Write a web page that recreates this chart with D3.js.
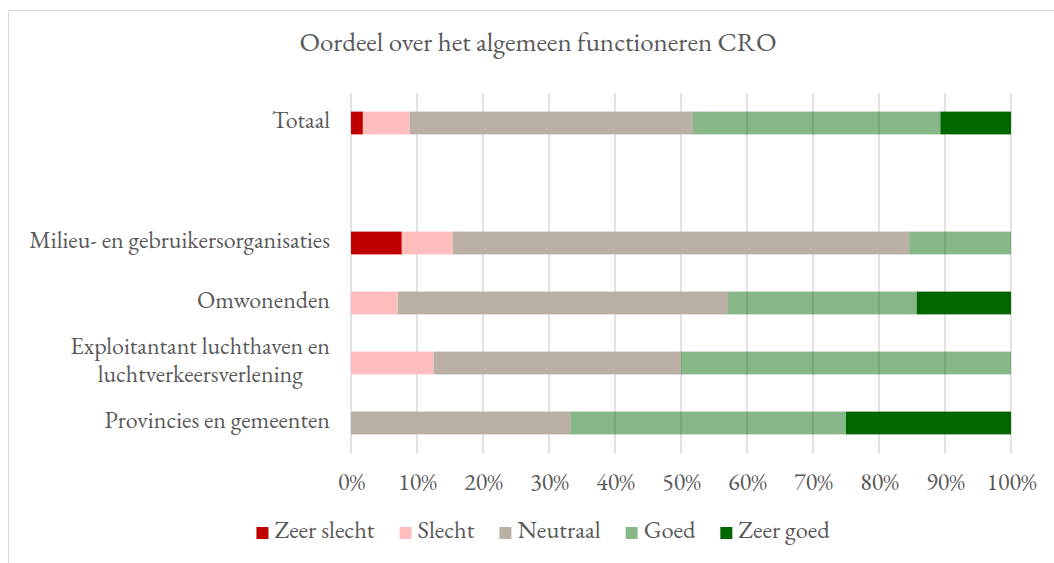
<!DOCTYPE html>
<html>
<head>
    <meta charset="utf-8">
    <title>Oordeel over het algemeen functioneren CRO</title>
    <style>
        body {
            margin: 0;
            background: #fff;
            font-family: "EB Garamond", Garamond, "Liberation Serif", serif;
        }

        text {
            fill: #595959;
        }

        .grid line {
            stroke: #d9d9d9;
            stroke-width: 1.5px;
        }
    </style>
    <script src="https://d3js.org/d3.v7.min.js"></script>
</head>
<body>
<div id="chart"></div>
<script>
    const width = 1054,
            height = 563;

    // categories, top to bottom (empty string = spacer row)
    const categories = [
        'Totaal',
        '',
        'Milieu- en gebruikersorganisaties',
        'Omwonenden',
        'Exploitantant luchthaven en\nluchtverkeersverlening',
        'Provincies en gemeenten'
    ];

    const seriesNames = ['Zeer slecht', 'Slecht', 'Neutraal', 'Goed', 'Zeer goed'];

    // shares in %, per category (same order as categories)
    const zeerSlecht = [1.8, 0, 7.7, 0, 0, 0];
    const slecht     = [7.1, 0, 7.7, 7.1, 12.5, 0];
    const neutraal   = [42.9, 0, 69.2, 50.0, 37.5, 33.3];
    const goed       = [37.5, 0, 15.4, 28.6, 50.0, 41.7];
    const zeerGoed   = [10.7, 0, 0, 14.3, 0, 25.0];

    const tickValues = [0, 0.1, 0.2, 0.3, 0.4, 0.5, 0.6, 0.7, 0.8, 0.9, 1];

    const colors = ['#c00000', '#ffbdbd', '#bab0a5', '#006600', '#006600'];
    const opacities = [1, 1, 1, 0.47, 1];

    // build rows for the stack
    const rows = categories.map((c, i) => ({
        cat: c,
        'Zeer slecht': zeerSlecht[i],
        'Slecht': slecht[i],
        'Neutraal': neutraal[i],
        'Goed': goed[i],
        'Zeer goed': zeerGoed[i]
    }));

    const stacked = d3.stack()
            .keys(seriesNames)
            .offset(d3.stackOffsetExpand)(rows);

    const svg = d3.select('#chart').append('svg')
            .attr('width', width)
            .attr('height', height);

    // chart frame (Excel style, runs off to the right/bottom)
    svg.append('rect')
            .attr('x', 8.5).attr('y', 10.5)
            .attr('width', 1070).attr('height', 600)
            .attr('fill', '#fff')
            .attr('stroke', '#d9d9d9');

    const x = d3.scaleLinear()
            .domain([0, 1])
            .range([351, 1011]);

    const y = d3.scaleBand()
            .domain(d3.range(categories.length))
            .range([93, 453])
            .paddingInner(0.62)
            .paddingOuter(0.31);

    // title
    svg.append('text')
            .attr('x', 538)
            .attr('y', 46)
            .attr('text-anchor', 'middle')
            .attr('dominant-baseline', 'middle')
            .style('font-size', '27px')
            .text('Oordeel over het algemeen functioneren CRO');

    // vertical gridlines
    svg.append('g').attr('class', 'grid')
            .selectAll('line')
            .data(tickValues)
            .join('line')
            .attr('x1', d => x(d)).attr('x2', d => x(d))
            .attr('y1', 93).attr('y2', 453);

    // bars
    svg.append('g')
            .selectAll('g')
            .data(stacked)
            .join('g')
            .attr('fill', (d, i) => colors[i])
            .attr('fill-opacity', (d, i) => opacities[i])
            .selectAll('rect')
            .data(d => d.filter(p => p[1] - p[0] > 0))
            .join('rect')
            .attr('x', p => x(p[0]))
            .attr('width', p => x(p[1]) - x(p[0]))
            .attr('y', p => y(rows.indexOf(p.data)))
            .attr('height', y.bandwidth());

    // x axis tick labels
    const xAxis = svg.append('g')
            .attr('transform', 'translate(0,453)')
            .call(d3.axisBottom(x)
                    .tickValues(tickValues)
                    .tickFormat(d3.format('.0%'))
                    .tickSize(0)
                    .tickPadding(20))
            .attr('font-family', null)
            .attr('font-size', null);
    xAxis.select('.domain').remove();
    xAxis.selectAll('text')
            .style('font-size', '24px')
            .attr('fill', null);

    // category labels (multi-line labels are centred within their block)
    const labelRight = 330;
    categories.forEach((c, i) => {
        if (!c) return;
        const lines = c.split('\n');
        const cy = y(i) + y.bandwidth() / 2;
        const t = svg.append('text')
                .style('font-size', '24px')
                .attr('dominant-baseline', 'middle');
        const lineH = 28;
        lines.forEach((l, j) => {
            t.append('tspan')
                    .attr('y', cy + (j - (lines.length - 1) / 2) * lineH)
                    .text(l);
        });
        if (lines.length === 1) {
            t.attr('text-anchor', 'end').selectAll('tspan').attr('x', labelRight);
        } else {
            const maxW = d3.max(t.selectAll('tspan').nodes(), n => n.getComputedTextLength());
            t.attr('text-anchor', 'middle').selectAll('tspan').attr('x', labelRight - maxW / 2);
        }
    });

    // legend
    const legend = svg.append('g');
    let lx = 0;
    seriesNames.forEach((s, i) => {
        const g = legend.append('g').attr('transform', `translate(${lx},0)`);
        g.append('rect')
                .attr('x', 0).attr('y', -6)
                .attr('width', 12).attr('height', 12)
                .attr('fill', colors[i])
                .attr('fill-opacity', opacities[i]);
        const t = g.append('text')
                .attr('x', 18)
                .attr('dominant-baseline', 'middle')
                .style('font-size', '24.5px')
                .text(s);
        lx += 18 + t.node().getComputedTextLength() + 25;
    });
    const legendW = lx - 25;
    legend.attr('transform', `translate(${543 - legendW / 2},533)`);
</script>
</body>
</html>
